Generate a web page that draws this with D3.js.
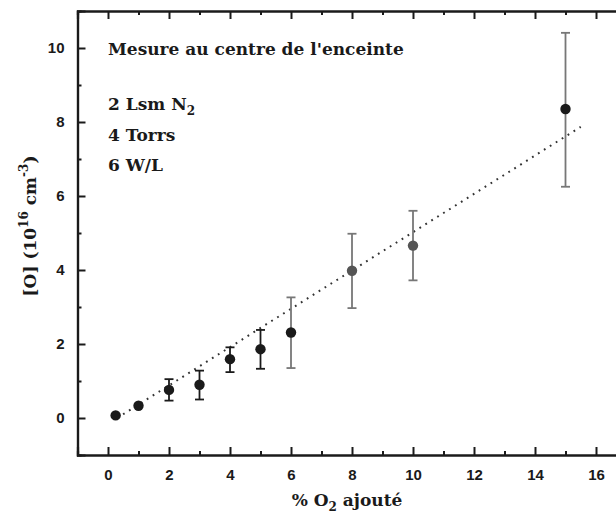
<!DOCTYPE html>
<html><head><meta charset="utf-8">
<script src="https://cdn.jsdelivr.net/npm/d3@7"></script>
<style>body{margin:0;background:#fff}svg{display:block}</style>
</head><body>
<svg id="c" width="616" height="519"></svg>
<script>
const o2Percent = [0.25, 1, 2, 3, 4, 5, 6, 8, 10, 15];
const oDensity  = [0.07, 0.33, 0.76, 0.9, 1.59, 1.86, 2.31, 3.98, 4.66, 8.35];
const errLow    = [null, null, 0.47, 0.5, 1.24, 1.33, 1.35, 2.97, 3.72, 6.25];
const errHigh   = [null, null, 1.05, 1.28, 1.91, 2.38, 3.26, 4.98, 5.6, 10.41];
const pointTone = ["dark","dark","dark","dark","dark","dark","dark","grey","grey","dark"];
const barTone   = ["dark","dark","dark","dark","dark","dark","grey","grey","grey","grey"];
const fitX = [0.3, 15.5];
const fitY = [0.0, 7.87];
const xTicks = [0, 2, 4, 6, 8, 10, 12, 14, 16];
const yTicks = [0, 2, 4, 6, 8, 10];
const notes = ["Mesure au centre de l'enceinte"];

const svg = d3.select("#c");
const x = d3.scaleLinear().domain([-1, 17]).range([77.5, 626.5]);
const y = d3.scaleLinear().domain([-1, 11]).range([455, 11]);
const ink = "#1a1a1a";
const sans = "'Liberation Sans', Arial, sans-serif";
const serif = "'DejaVu Serif', 'Liberation Serif', serif";

// fit line (dotted)
svg.append("path")
  .attr("d", d3.line().x(d => x(d[0])).y(d => y(d[1]))(d3.zip(fitX, fitY)))
  .attr("fill", "none").attr("stroke", "#333").attr("stroke-width", 2)
  .attr("stroke-dasharray", "1.8 5.2").attr("stroke-linecap", "butt");

// error bars
const idx = d3.range(o2Percent.length).filter(i => errLow[i] != null);
const eb = svg.append("g");
idx.forEach(i => {
  const c = barTone[i] === "dark" ? ink : "#777";
  const cx = x(o2Percent[i]);
  eb.append("line").attr("x1", cx).attr("x2", cx).attr("y1", y(errLow[i])).attr("y2", y(errHigh[i]))
    .attr("stroke", c).attr("stroke-width", 1.8);
  [errLow[i], errHigh[i]].forEach(v => {
    eb.append("line").attr("x1", cx - 4.5).attr("x2", cx + 4.5).attr("y1", y(v)).attr("y2", y(v))
      .attr("stroke", c).attr("stroke-width", 1.8);
  });
});

// points
svg.append("g").selectAll("circle").data(d3.range(o2Percent.length)).join("circle")
  .attr("cx", i => x(o2Percent[i])).attr("cy", i => y(oDensity[i])).attr("r", 5.2)
  .attr("fill", i => pointTone[i] === "dark" ? ink : "#555");

// axes
const gBottom = svg.append("g").attr("transform", `translate(0,${y(-1)})`)
  .call(d3.axisBottom(x).tickValues(xTicks).tickSize(-8).tickPadding(14).tickFormat(d3.format("d")));
const gBottomMinor = svg.append("g").attr("transform", `translate(0,${y(-1)})`)
  .call(d3.axisBottom(x).tickValues(d3.range(1, 17, 2)).tickSize(-4).tickFormat(""));
const gTop = svg.append("g").attr("transform", `translate(0,${y(11)})`)
  .call(d3.axisTop(x).tickValues(xTicks).tickSize(-8).tickFormat(""));
const gTopMinor = svg.append("g").attr("transform", `translate(0,${y(11)})`)
  .call(d3.axisTop(x).tickValues(d3.range(1, 17, 2)).tickSize(-4).tickFormat(""));
const gLeft = svg.append("g").attr("transform", `translate(${x(-1)},0)`)
  .call(d3.axisLeft(y).tickValues(yTicks).tickSize(-8).tickPadding(13).tickFormat(d3.format("d")));
const gLeftMinor = svg.append("g").attr("transform", `translate(${x(-1)},0)`)
  .call(d3.axisLeft(y).tickValues([1,3,5,7,9]).tickSize(-4).tickFormat(""));

[gBottom, gBottomMinor, gTop, gTopMinor, gLeft, gLeftMinor].forEach(g => {
  g.selectAll(".domain").attr("stroke", ink).attr("stroke-width", 2.2);
  g.selectAll(".tick line").attr("stroke", ink).attr("stroke-width", 2);
  g.selectAll("text").attr("fill", ink).style("font-family", sans)
    .style("font-weight", "bold").style("font-size", "15px");
});

// annotations
const ann = svg.append("g").style("font-family", serif).style("font-weight", "bold")
  .style("font-size", "17px").attr("fill", ink);
ann.append("text").attr("x", 108).attr("y", 55).text(notes[0]);
const t1 = ann.append("text").attr("x", 108).attr("y", 110);
t1.append("tspan").text("2 Lsm N");
t1.append("tspan").attr("dy", 5).style("font-size", "12px").text("2");
ann.append("text").attr("x", 108).attr("y", 141).text("4 Torrs");
ann.append("text").attr("x", 108).attr("y", 171).text("6 W/L");

// x title
const xt = ann.append("text").attr("x", 347).attr("y", 506).attr("text-anchor", "middle");
xt.append("tspan").text("% O");
xt.append("tspan").attr("dy", 5).style("font-size", "12px").text("2");
xt.append("tspan").attr("dy", -5).text(" ajouté");

// y title
const yt = ann.append("text").attr("transform", "translate(36,226) rotate(-90)").attr("text-anchor", "middle");
yt.append("tspan").text("[O] (10");
yt.append("tspan").attr("dy", -8).style("font-size", "12px").text("16");
yt.append("tspan").attr("dy", 8).text(" cm");
yt.append("tspan").attr("dy", -8).style("font-size", "12px").text("-3");
yt.append("tspan").attr("dy", 8).text(")");
</script>
</body></html>
